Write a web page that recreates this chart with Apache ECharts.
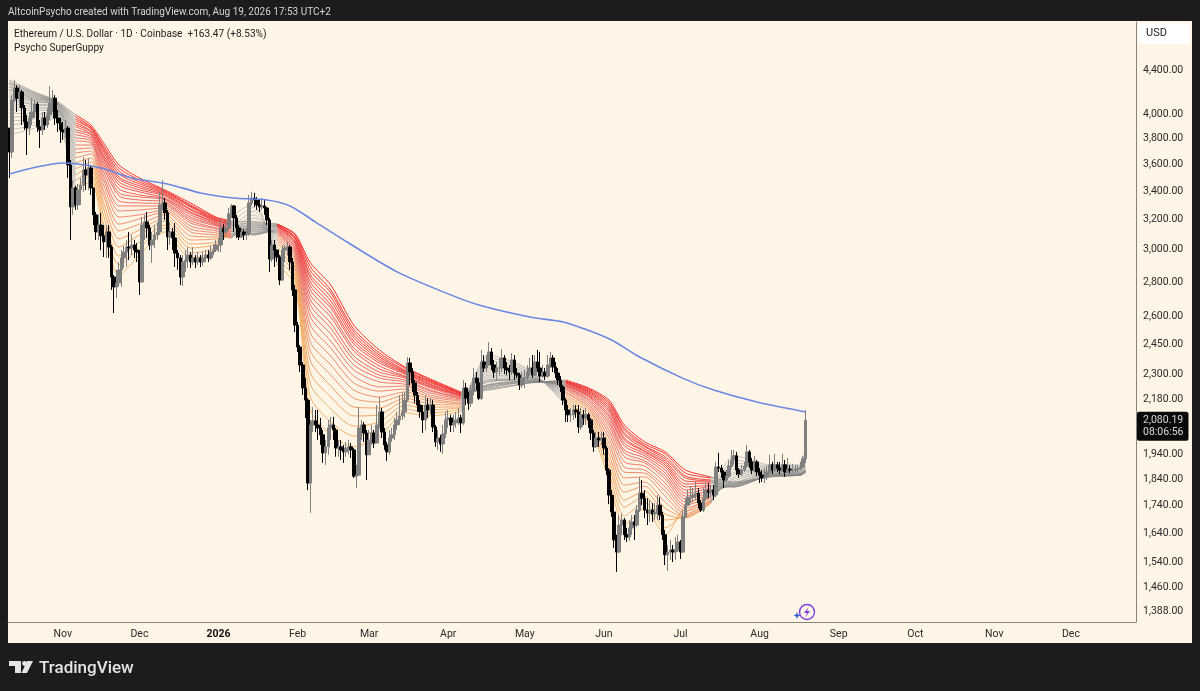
<!DOCTYPE html>
<html><head><meta charset="utf-8">
<style>html,body{margin:0;padding:0;background:#1c1c1c}#c{width:1200px;height:691px}</style>
<script src="https://cdn.jsdelivr.net/npm/echarts@6/dist/echarts.min.js"></script>
</head><body><div id="c"></div>
<script>
const firstDay = '2025-10-11';
const dayCount = 442;
const xTicks = {'2025-11-01':'Nov','2025-12-01':'Dec','2026-01-01':'2026','2026-02-01':'Feb','2026-03-01':'Mar','2026-04-01':'Apr','2026-05-01':'May','2026-06-01':'Jun','2026-07-01':'Jul','2026-08-01':'Aug','2026-09-01':'Sep','2026-10-01':'Oct','2026-11-01':'Nov','2026-12-01':'Dec'};
const yTicks = [4400,4000,3800,3600,3400,3200,3000,2800,2600,2450,2300,2180,1940,1840,1740,1640,1540,1460,1388];
const firstOpen = 3880;
const closes = [
3686,4118,4225,4135,4190,4050,3930,3880,3964,4015,4083,3889,3864,3964,3905,3990,4092,4135,3964,3922,3864,
3847,3880,3586,3279,3415,3293,3400,3436,3548,3510,3563,3415,3224,3109,3155,3083,3043,3109,3010,2824,2765,2788,2867,2941,2978,3010,3004,3023,2991,2978,
2794,3155,3175,3135,3023,3056,3089,3109,3293,3307,3238,3076,3109,3069,2972,2941,2824,2916,2928,2959,2916,2941,2916,2941,2916,2941,2959,2941,2978,2991,3023,
3023,3135,3109,3135,3231,3286,3203,3135,3076,3109,3089,3096,3307,3342,3328,3293,3279,3286,3272,3189,2934,3023,2991,2947,2806,2991,3004,3010,2916,2747,2549,
2432,2341,2229,2172,1820,2060,2078,2060,2047,2017,1941,1966,2047,2060,2038,1961,1966,1953,1945,1961,1966,1953,1847,1851,2047,2060,2025,1933,
1995,2025,1982,2060,2118,2029,1974,1945,2003,2017,2060,2082,2100,2118,2172,2351,2306,2253,2195,2149,2118,2082,2149,2127,2149,2051,1987,2003,1978,2021,2082,
2091,2060,2069,2082,2091,2069,2229,2181,2158,2210,2277,2253,2181,2356,2326,2341,2407,2341,2306,2326,2326,2376,2326,2316,2306,2366,2301,2291,2243,2277,
2277,2306,2326,2291,2356,2326,2286,2306,2286,2341,2376,2331,2301,2267,2234,2172,2127,2105,2105,2127,2118,2051,2105,2091,2105,2082,2025,1966,2003,1995,2003,
1961,1871,1774,1711,1612,1571,1664,1682,1630,1622,1654,1675,1664,1718,1781,1762,1718,1707,1718,1704,1711,1736,1700,1630,1562,1571,1578,1571,1578,1605,
1571,1693,1736,1766,1766,1774,1781,1744,1718,1762,1793,1785,1793,1774,1883,1879,1863,1832,1847,1887,1912,1929,1871,1855,1871,1887,1945,1904,1871,1904,1863,
1851,1840,1844,1863,1892,1871,1892,1879,1871,1892,1863,1875,1871,1871,1875,1875,1883,1917,2080.19];
const highs = [
3880,4162,4298,4252,4252,4207,4075,3990,4015,4135,4118,4100,3947,4015,4015,4050,4243,4207,4162,4032,3964,
3930,3947,3897,3624,3473,3429,3444,3488,3647,3624,3640,3586,3415,3244,3224,3238,3155,3155,3155,3023,2836,2867,2916,2991,3017,3056,3109,3089,3056,3036,
2991,3209,3224,3244,3155,3109,3155,3175,3386,3473,3342,3258,3175,3135,3168,2991,2959,2959,2991,3010,2978,3010,2959,2978,2959,2978,2991,2991,3017,3030,3056,
3069,3189,3161,3175,3272,3300,3293,3224,3155,3135,3128,3135,3364,3386,3379,3350,3328,3342,3328,3279,3203,3056,3056,2991,2959,3023,3023,3043,3023,2941,2776,
2566,2443,2356,2277,2181,2082,2140,2127,2127,2091,2038,1995,2082,2096,2096,2047,1995,1995,1974,1987,1995,1982,1961,1892,2140,2082,2073,2038,
2038,2060,2038,2149,2186,2136,2047,1987,2038,2047,2091,2118,2195,2205,2210,2381,2376,2326,2267,2210,2172,2149,2195,2181,2181,2172,2060,2038,2017,2060,2118,
2127,2105,2105,2118,2136,2105,2267,2253,2210,2243,2326,2306,2277,2417,2391,2391,2458,2427,2366,2356,2376,2422,2391,2356,2341,2401,2391,2326,2301,2306,
2316,2341,2376,2391,2391,2417,2407,2341,2326,2391,2407,2391,2356,2326,2286,2243,2181,2149,2136,2149,2149,2149,2136,2127,2136,2114,2091,2038,2029,2029,2029,
2029,1970,1879,1793,1774,1630,1700,1707,1689,1654,1682,1700,1700,1736,1844,1832,1793,1762,1755,1744,1744,1774,1766,1711,1647,1595,1612,1595,1622,1630,
1612,1718,1762,1793,1808,1801,1824,1801,1755,1801,1820,1820,1812,1812,1904,1941,1892,1871,1871,1912,1953,1953,1945,1879,1892,1904,1974,1953,1920,1929,1912,
1879,1871,1879,1887,1933,1904,1937,1904,1904,1937,1912,1920,1892,1896,1892,1892,1904,1929,2127];
const lows = [
3488,3640,4100,4015,4050,3905,3864,3663,3823,3905,3964,3847,3718,3823,3864,3880,3947,4015,3905,3847,3758,
3782,3798,3488,3056,3224,3258,3258,3293,3386,3400,3400,3364,3155,3056,3056,2991,2947,2941,2941,2747,2615,2700,2765,2765,2879,2885,2928,2959,2941,2916,
2718,2991,3056,3069,2991,2910,3004,3056,3089,3258,3189,2991,3023,2991,2885,2867,2776,2771,2855,2879,2879,2898,2879,2898,2885,2892,2916,2916,2928,2959,2978,
2978,2978,3056,3083,3122,3203,3109,3069,3056,3069,3056,3056,3083,3286,3279,3258,3244,3258,3224,3155,2855,2916,2885,2916,2776,2800,2916,2959,2867,2712,2511,
2407,2306,2196,2091,1793,1708,2029,2029,1995,1974,1900,1892,1933,1995,1995,1925,1925,1912,1900,1925,1933,1920,1840,1801,1847,1995,1987,1832,
1945,1974,1961,1987,2047,2003,1953,1908,1933,1987,1995,2038,2060,2082,2091,2163,2243,2210,2158,2118,2091,2025,2038,2091,2105,2029,1966,1953,1945,1937,2003,
2047,2029,2029,2047,2060,2025,2060,2149,2127,2140,2195,2219,2172,2172,2306,2306,2336,2316,2277,2267,2291,2306,2296,2291,2267,2291,2267,2277,2219,2229,
2229,2267,2286,2277,2286,2306,2258,2277,2267,2277,2326,2306,2277,2243,2210,2149,2073,2073,2073,2082,2091,2025,2038,2060,2060,2047,1995,1945,1961,1966,1974,
1933,1851,1740,1693,1585,1506,1568,1630,1612,1605,1609,1630,1612,1657,1711,1736,1689,1664,1675,1675,1682,1682,1682,1612,1528,1509,1545,1538,1545,1571,
1548,1568,1689,1736,1744,1747,1755,1725,1711,1711,1755,1762,1766,1755,1766,1863,1840,1801,1824,1840,1879,1892,1851,1840,1847,1863,1879,1879,1855,1863,1847,
1820,1824,1820,1832,1855,1855,1863,1863,1855,1863,1844,1859,1859,1859,1863,1863,1871,1879,1900];

const emaDays = [0,9,21,36,48,62,75,88,101,110,120,133,152,171,184,204,217,224,236,247,264,276,293,312];
const emaValues = [3518,3563,3601,3563,3488,3444,3378,3342,3328,3286,3175,3036,2855,2730,2660,2593,2566,2535,2469,2381,2275,2219,2163,2118];

const guppyDays = [0,10,18,26,32,37,43,51,61,71,81,87,96,105,112,118,126,135,145,155,165,177,188,204,218,227,235,241,249,257,265,275,284,298,310,312];
const guppyRows = [
[3823,3864,3905,3939,3972,4006,4041,4067,4092,4118,4135,4153,4171,4189,4207,4216,4234,4243,4261,4270,4280,4298],
[3880,3905,3930,3955,3981,3998,4024,4041,4058,4075,4083,4100,4109,4118,4127,4135,4144,4153,4162,4171,4180,4189],
[3964,3981,3990,4006,4015,4024,4032,4041,4050,4058,4067,4075,4075,4083,4092,4092,4100,4100,4100,4109,4109,4118],
[3364,3415,3466,3510,3555,3601,3640,3679,3710,3742,3774,3798,3823,3847,3864,3889,3905,3922,3939,3955,3972,3990],
[3473,3510,3548,3578,3609,3640,3671,3694,3718,3742,3758,3774,3790,3806,3823,3831,3847,3855,3872,3880,3889,3905],
[3109,3161,3217,3265,3307,3357,3393,3436,3473,3502,3533,3563,3586,3609,3632,3647,3663,3686,3702,3718,3734,3758],
[2836,2898,2953,3010,3063,3115,3161,3209,3251,3286,3321,3357,3379,3408,3436,3458,3480,3495,3518,3540,3563,3586],
[2959,3004,3043,3089,3122,3161,3196,3224,3258,3286,3307,3328,3350,3364,3386,3400,3415,3429,3444,3458,3473,3488],
[3109,3135,3155,3182,3203,3224,3244,3258,3272,3286,3300,3314,3328,3335,3342,3357,3364,3371,3379,3386,3393,3400],
[2941,2972,3004,3030,3056,3083,3109,3128,3148,3168,3182,3196,3209,3224,3238,3244,3258,3265,3279,3286,3293,3307],
[2991,3010,3030,3043,3063,3076,3089,3102,3115,3128,3135,3148,3155,3161,3168,3175,3182,3189,3189,3196,3203,3209],
[3217,3175,3135,3109,3089,3076,3069,3069,3076,3083,3089,3096,3109,3115,3128,3135,3148,3155,3161,3168,3175,3182],
[3307,3279,3251,3224,3203,3182,3168,3155,3142,3128,3115,3102,3096,3089,3089,3096,3109,3122,3135,3148,3161,3175],
[2898,2941,2978,3010,3036,3056,3069,3083,3096,3102,3109,3115,3122,3128,3135,3142,3148,3148,3155,3155,3161,3161],
[2776,2806,2830,2855,2879,2898,2922,2941,2959,2972,2985,2998,3010,3023,3036,3043,3049,3063,3069,3076,3089,3096],
[2127,2186,2247,2301,2361,2412,2458,2505,2549,2593,2626,2660,2689,2718,2747,2771,2794,2818,2836,2861,2885,2910],
[2017,2073,2131,2186,2238,2291,2341,2386,2427,2463,2500,2532,2560,2593,2615,2643,2660,2683,2706,2730,2747,2776],
[1966,2012,2055,2100,2140,2181,2219,2253,2286,2316,2341,2366,2386,2412,2427,2448,2463,2480,2495,2511,2527,2549],
[2008,2042,2073,2105,2136,2163,2186,2214,2234,2258,2277,2291,2306,2321,2336,2351,2361,2371,2381,2391,2402,2417],
[2114,2131,2149,2167,2181,2195,2210,2224,2238,2247,2258,2267,2277,2282,2286,2296,2301,2306,2311,2316,2326,2331],
[2100,2114,2127,2140,2154,2167,2177,2186,2195,2205,2214,2219,2229,2234,2238,2243,2247,2253,2258,2262,2267,2272],
[2118,2127,2136,2140,2149,2154,2158,2167,2172,2177,2181,2181,2186,2191,2191,2195,2195,2200,2200,2205,2205,2210],
[2391,2376,2361,2346,2331,2321,2311,2301,2291,2282,2272,2267,2262,2258,2247,2243,2243,2238,2234,2229,2224,2219],
[2316,2311,2306,2301,2296,2291,2286,2282,2277,2277,2272,2272,2267,2267,2262,2262,2262,2258,2258,2258,2253,2253],
[2149,2158,2167,2177,2186,2195,2205,2210,2219,2224,2229,2234,2238,2243,2243,2247,2253,2253,2258,2258,2262,2267],
[2060,2073,2087,2100,2114,2127,2136,2145,2154,2163,2172,2177,2186,2191,2195,2200,2205,2210,2214,2219,2224,2229],
[1832,1859,1887,1912,1937,1961,1982,2003,2021,2038,2055,2069,2082,2096,2105,2118,2127,2136,2145,2154,2163,2172],
[1664,1696,1729,1755,1785,1812,1840,1863,1883,1904,1925,1941,1953,1970,1982,1995,2003,2017,2025,2038,2047,2060],
[1725,1747,1770,1789,1808,1824,1844,1859,1871,1887,1900,1908,1920,1929,1937,1945,1949,1957,1966,1970,1978,1987],
[1630,1654,1682,1704,1725,1747,1770,1789,1805,1820,1836,1847,1859,1871,1883,1892,1900,1908,1916,1925,1937,1945],
[1733,1711,1696,1689,1693,1696,1704,1714,1725,1736,1747,1759,1770,1781,1793,1805,1816,1828,1840,1847,1859,1871],
[1781,1766,1755,1747,1744,1747,1751,1755,1762,1770,1778,1785,1793,1801,1808,1812,1820,1824,1828,1832,1840,1844],
[1929,1912,1900,1887,1875,1863,1855,1844,1836,1828,1820,1816,1812,1808,1805,1805,1805,1808,1812,1816,1820,1824],
[1892,1887,1883,1879,1875,1871,1867,1867,1863,1863,1859,1859,1855,1855,1851,1851,1851,1847,1847,1847,1844,1844],
[1892,1887,1883,1879,1875,1871,1867,1867,1863,1863,1859,1859,1859,1855,1855,1855,1855,1851,1851,1851,1851,1851],
[1995,1953,1929,1912,1900,1892,1887,1883,1879,1875,1875,1871,1871,1871,1867,1867,1867,1867,1863,1863,1863,1863]];
// sample-column ranges of each colour phase
const phases = [[0,3,'grey'],[3,11,'red'],[11,13,'grey'],[13,21,'red'],[21,24,'grey'],[24,31,'red'],[31,35,'grey']];
const fanColors = ['#efb060','#eeaa5c','#eda459','#ec9e58','#eb9658','#ea8e5a','#e9855c','#e87c5e','#e87460','#e86c60','#e8645c','#e85c58','#e85452','#e94c4c','#ea4646','#ea4040','#eb3a3a','#ec3535','#ed3030','#ee2b2b','#f02424','#f21e1e'];
const greyColors = ['#a8a8a8','#a6a6a6','#a4a4a4','#a2a2a2','#a0a0a0','#9e9e9e','#9c9c9c','#9a9a9a','#989898','#969696','#949494','#929292','#909090','#8e8e8e','#8c8c8c','#8a8a8a','#888888','#868686','#848484','#828282','#808080','#7e7e7e'];

const textFont = 'Roboto, "Liberation Sans", sans-serif';
const categories = [];
{ const d0 = new Date(firstDay + 'T00:00:00Z');
  for (let i = 0; i < dayCount; i++) categories.push(new Date(d0.getTime() + i * 864e5).toISOString().slice(0, 10)); }

const candles = closes.map((c, i) => [i ? closes[i - 1] : firstOpen, c, lows[i], highs[i]]);
const series = [];
phases.forEach(([a, b, kind]) => {
  for (let r = 0; r < 22; r++) {
    const pts = [];
    for (let k = a; k <= b; k++) pts.push([guppyDays[k], guppyRows[k][r]]);
    series.push({type:'line', data:pts, smooth:0.25, showSymbol:false, silent:true, z:2,
      lineStyle:{width:1, color:kind === 'red' ? fanColors[r] : greyColors[r], opacity:kind === 'red' ? 0.9 : 0.65}});
  }
});
series.push({type:'candlestick', data:candles, barWidth:3, z:3, silent:true,
  itemStyle:{color:'#7f7f7f', color0:'#000000', borderColor:'#7f7f7f', borderColor0:'#000000', borderWidth:1}});
const tickLines = yTicks.map(v => ({yAxis:v, label:{formatter:v.toLocaleString('en-US', {minimumFractionDigits:2})}}));
tickLines.push({yAxis:2080.19, label:{formatter:'2,080.19\n08:06:56', color:'#d8d8d8', backgroundColor:'#0a0a0a', borderRadius:2, padding:[3,5,2,6], lineHeight:12, distance:1, offset:[0,6]}});
series.push({type:'line', name:'EMA', data:emaDays.map((d, i) => [d, emaValues[i]]), smooth:0.3, showSymbol:false, silent:true, z:4,
  lineStyle:{width:1.6, color:'#6a87e2'},
  markLine:{silent:true, symbol:'none', animation:false, lineStyle:{color:'rgba(0,0,0,0)', width:0},
    label:{position:'end', distance:7, color:'#2a2a2a', opacity:1, fontFamily:textFont, fontSize:10.5, offset:[0,1]}, data:tickLines}});

const graphics = [
  {type:'rect', z:-10, shape:{x:8, y:21, width:1184, height:622}, style:{fill:'#fff5e6'}},
  {type:'rect', z:-9, shape:{x:1138, y:23, width:52, height:21, r:2}, style:{fill:'#ffffff'}},
  {type:'text', x:1146, y:28, style:{text:'USD', fill:'#222', font:'11px ' + textFont}},
  {type:'text', x:8, y:7, style:{text:'AltcoinPsycho created with TradingView.com, Aug 19, 2026 17:53 UTC+2', fill:'#d6d6d6', font:'10px ' + textFont}},
  {type:'text', x:14, y:29, style:{text:'Ethereum / U.S. Dollar · 1D · Coinbase  +163.47 (+8.53%)', fill:'#222', font:'10.1px ' + textFont}},
  {type:'text', x:14, y:43, style:{text:'Psycho SuperGuppy', fill:'#222', font:'10.1px ' + textFont}},
  {type:'polygon', shape:{points:[[9,661],[21,661],[21,673],[15,673],[15,666],[9,666]]}, style:{fill:'#e4e4e4'}},
  {type:'circle', shape:{cx:24.5, cy:663.5, r:2.4}, style:{fill:'#e4e4e4'}},
  {type:'polygon', shape:{points:[[27,661],[33,661],[27,673],[21.5,673]]}, style:{fill:'#e4e4e4'}},
  {type:'text', x:39, y:660, style:{text:'TradingView', fill:'#e4e4e4', font:'500 17px ' + textFont}},
  {type:'circle', shape:{cx:807, cy:612, r:7.5}, style:{fill:'#fff5e6', stroke:'#7a3fe0', lineWidth:1.4}},
  {type:'polygon', shape:{points:[[808.5,607],[804,613],[807,613],[805.5,617],[810,611],[807,611]]}, style:{fill:'#7a3fe0'}},
  {type:'polygon', shape:{points:[[797,612],[798,614.5],[800.5,615.5],[798,616.5],[797,619],[796,616.5],[793.5,615.5],[796,614.5]]}, style:{fill:'#2f5fd0'}}
];

const chart = echarts.init(document.getElementById('c'), null, {renderer:'canvas', width:1200, height:691});
chart.setOption({
  animation:false, backgroundColor:'#1c1c1c',
  grid:{left:8, right:64, top:22, bottom:69},
  graphic:graphics,
  xAxis:{type:'category', data:categories, boundaryGap:true,
    axisLine:{show:true, lineStyle:{color:'#8a8478', width:1}}, axisTick:{show:false}, splitLine:{show:false},
    axisLabel:{interval:(i, v) => xTicks[v] !== undefined, margin:7, color:'#2a2a2a', fontFamily:textFont, fontSize:10.5, hideOverlap:false,
      formatter:v => xTicks[v] === '2026' ? '{b|2026}' : (xTicks[v] || ''), rich:{b:{fontWeight:'bold', fontSize:10.5, fontFamily:textFont, color:'#111'}}}},
  yAxis:{type:'log', logBase:10, min:1353.3, max:4864, position:'right', axisLine:{show:true, lineStyle:{color:'#8a8478', width:1}}, axisTick:{show:false}, axisLabel:{show:false}, splitLine:{show:false}},
  series:series
});
</script></body></html>
